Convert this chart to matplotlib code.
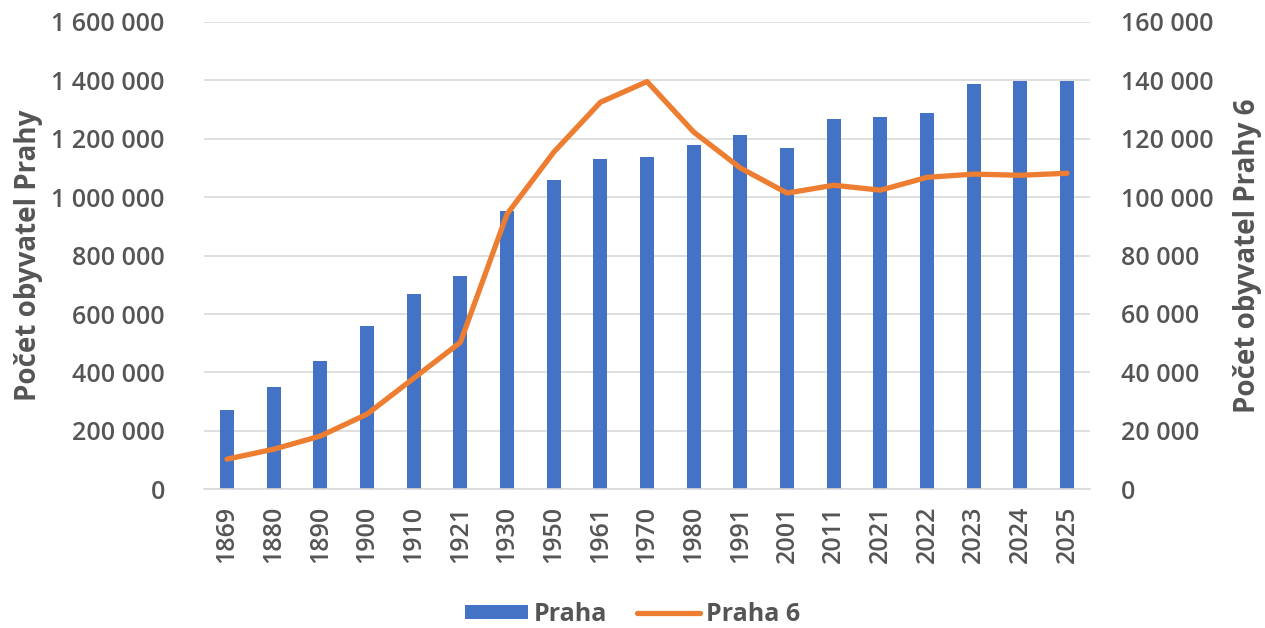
import matplotlib
matplotlib.use("Agg")
import matplotlib.pyplot as plt
from matplotlib.ticker import FuncFormatter, MultipleLocator
import numpy as np

# population data
years = ["1869", "1880", "1890", "1900", "1910", "1921", "1930", "1950", "1961", "1970",
         "1980", "1991", "2001", "2011", "2021", "2022", "2023", "2024", "2025"]
praha = [270000, 349000, 438000, 558000, 668000, 729000, 952000, 1058000, 1131000, 1138000,
         1180000, 1213000, 1168000, 1269000, 1274000, 1288000, 1386000, 1397000, 1397000]
praha6 = [10300, 13700, 18200, 25700, 38000, 50300, 94200, 115400, 132500, 139600,
          122300, 110000, 101400, 104100, 102400, 106800, 107900, 107500, 108200]

text_col = "#555555"
bar_col = "#4472C4"
line_col = "#ED7D31"
plt.rcParams['font.family'] = ['Open Sans', 'DejaVu Sans']
plt.rcParams['font.size'] = 18


def space_fmt(v, pos):
    return f"{int(v):,}".replace(",", " ")


fig = plt.figure(figsize=(12.65, 6.28), dpi=100)
ax = fig.add_axes([0.161, 0.221, 0.701, 0.744])
ax2 = ax.twinx()

x = np.arange(len(years))
ax.bar(x, praha, width=0.3, color=bar_col, label="Praha", zorder=2)
ax2.plot(x, praha6, color=line_col, lw=3.8, solid_joinstyle="round",
         solid_capstyle="round", label="Praha 6", zorder=3)

ax.set_xlim(-0.5, len(years) - 0.5)
ax.set_ylim(0, 1600000)
ax2.set_ylim(0, 160000)
ax.yaxis.set_major_locator(MultipleLocator(200000))
ax2.yaxis.set_major_locator(MultipleLocator(20000))
ax.yaxis.set_major_formatter(FuncFormatter(space_fmt))
ax2.yaxis.set_major_formatter(FuncFormatter(space_fmt))

ax.set_xticks(x)
ax.set_xticklabels(years, rotation=90)
ax.grid(axis="y", color="#d9d9d9", lw=1.2, zorder=0)
ax.set_axisbelow(True)

for a in (ax, ax2):
    for s in a.spines.values():
        s.set_visible(False)
    a.tick_params(length=0, colors=text_col, labelsize=18)
    for lab in a.get_xticklabels() + a.get_yticklabels():
        lab.set_fontweight("semibold")
ax.spines["bottom"].set_visible(True)
ax.spines["bottom"].set_color("#d9d9d9")
ax.spines["bottom"].set_linewidth(1.2)
ax.tick_params(axis="y", pad=28)
ax.tick_params(axis="x", pad=12)
ax2.tick_params(axis="y", pad=22)

ax.set_ylabel("Počet obyvatel Prahy", color=text_col, fontsize=20, fontweight="bold", labelpad=6)
ax2.set_ylabel("Počet obyvatel Prahy 6", color=text_col, fontsize=20, fontweight="bold", labelpad=14)

h1, l1 = ax.get_legend_handles_labels()
h2, l2 = ax2.get_legend_handles_labels()
leg = fig.legend(h1 + h2, l1 + l2, loc="center", bbox_to_anchor=(0.5, 0.022), ncol=2, frameon=False,
                 handlelength=2.5, handleheight=0.5, columnspacing=1.2, handletextpad=0.25,
                 fontsize=18)
for t in leg.get_texts():
    t.set_color(text_col)
    t.set_fontweight("bold")

fig.savefig("out.png", dpi=100)
